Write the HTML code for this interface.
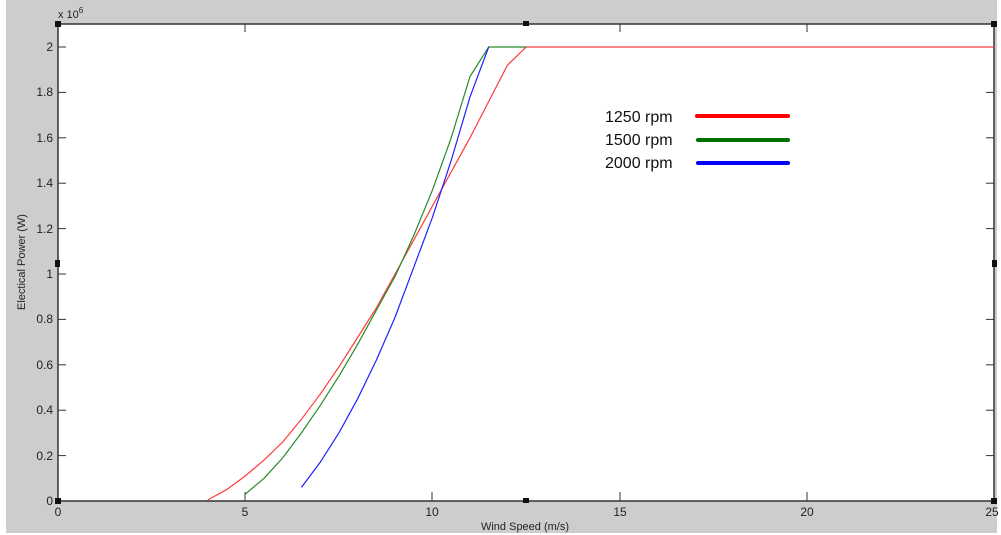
<!DOCTYPE html>
<html><head><meta charset="utf-8"><style>
html,body{margin:0;padding:0;background:#fff;}
svg{display:block;}
text{font-family:"Liberation Sans",Arial,sans-serif;}
</style></head><body>
<svg width="1001" height="535" viewBox="0 0 1001 535">
<rect x="0" y="0" width="1001" height="535" fill="#fff"/>
<rect x="6" y="0" width="991" height="533" fill="#cdcdcd"/>
<rect x="58" y="24" width="936" height="477" fill="#fff"/>
<g stroke="#333" stroke-width="1.5" fill="none">
<rect x="58" y="24" width="936" height="477"/>
</g>
<g stroke="#333" stroke-width="1">
<!-- y ticks -->
<line x1="58" x2="66" y1="501" y2="501"/><line x1="58" x2="66" y1="455.6" y2="455.6"/><line x1="58" x2="66" y1="410.2" y2="410.2"/><line x1="58" x2="66" y1="364.8" y2="364.8"/><line x1="58" x2="66" y1="319.4" y2="319.4"/><line x1="58" x2="66" y1="274" y2="274"/><line x1="58" x2="66" y1="228.6" y2="228.6"/><line x1="58" x2="66" y1="183.2" y2="183.2"/><line x1="58" x2="66" y1="137.8" y2="137.8"/><line x1="58" x2="66" y1="92.4" y2="92.4"/><line x1="58" x2="66" y1="47" y2="47"/>
<line x1="994" x2="986" y1="455.6" y2="455.6"/><line x1="994" x2="986" y1="410.2" y2="410.2"/><line x1="994" x2="986" y1="364.8" y2="364.8"/><line x1="994" x2="986" y1="319.4" y2="319.4"/><line x1="994" x2="986" y1="228.6" y2="228.6"/><line x1="994" x2="986" y1="183.2" y2="183.2"/><line x1="994" x2="986" y1="137.8" y2="137.8"/><line x1="994" x2="986" y1="92.4" y2="92.4"/><line x1="994" x2="986" y1="47" y2="47"/>
<line x1="245" x2="245" y1="501" y2="492"/><line x1="432" x2="432" y1="501" y2="492"/><line x1="620" x2="620" y1="501" y2="492"/><line x1="807" x2="807" y1="501" y2="492"/>
<line x1="245" x2="245" y1="24" y2="32"/><line x1="620" x2="620" y1="24" y2="32"/><line x1="807" x2="807" y1="24" y2="32"/>
</g>
<g fill="#111">
<rect x="55" y="21" width="6" height="6"/><rect x="991" y="21" width="6" height="6"/>
<rect x="55" y="498" width="6" height="6"/><rect x="991" y="498" width="6" height="6"/>
<rect x="523" y="21" width="6" height="5"/><rect x="523" y="498" width="6" height="5"/>
<rect x="55" y="260" width="5" height="7"/><rect x="992" y="260" width="5" height="7"/>
</g>
<g font-size="12" fill="#222" text-anchor="end">
<text x="53" y="505">0</text><text x="53" y="460">0.2</text><text x="53" y="414">0.4</text><text x="53" y="369">0.6</text><text x="53" y="323">0.8</text><text x="53" y="278">1</text><text x="53" y="233">1.2</text><text x="53" y="187">1.4</text><text x="53" y="142">1.6</text><text x="53" y="96">1.8</text><text x="53" y="51">2</text>
</g>
<g font-size="12" fill="#222" text-anchor="middle">
<text x="58" y="516">0</text><text x="245" y="516">5</text><text x="432" y="516">10</text><text x="620" y="516">15</text><text x="807" y="516">20</text><text x="992" y="516">25</text>
<text x="525" y="530" font-size="11">Wind Speed (m/s)</text>
</g>
<text x="58" y="18" font-size="11" fill="#222">x 10<tspan font-size="8" dy="-5">6</tspan></text>
<text transform="translate(25,262) rotate(-90)" font-size="11" fill="#222" text-anchor="middle">Electical Power (W)</text>
<g fill="none" stroke-width="1.2">
<polyline stroke="#ff3b3b" points="207.8,499.9 226.5,489.7 245.2,476 264,460.1 282.7,442 301.4,419.3 320.1,394.3 338.9,366.9 357.6,337.5 376.3,308 395.1,274 413.8,239.9 432.5,205.9 451.2,171.8 470,137.8 488.7,101.5 507.4,65.2 526.2,47 994,47"/>
<polyline stroke="#2a8a2a" points="245.2,494.2 264,478.3 282.7,457.9 301.4,432.9 320.1,405.7 338.9,376.2 357.6,344.4 376.3,310.3 395.1,276.3 413.8,235.4 432.5,190 451.2,137.8 470,76.5 488.7,47 526.2,47"/>
<polyline stroke="#2020ff" points="301.4,487.4 320.1,462.4 338.9,432.9 357.6,398.8 376.3,360.3 395.1,317.1 413.8,267.2 432.5,217.2 451.2,160.5 470,96.9 488.7,47"/>
</g>
<g font-family="Liberation Sans" font-size="16" fill="#111">
<text x="605" y="122">1250 rpm</text><text x="605" y="145">1500 rpm</text><text x="605" y="168">2000 rpm</text>
</g>
<g stroke-width="4" stroke-linecap="round">
<line x1="697" x2="788" y1="116" y2="116" stroke="#ff0000"/>
<line x1="698" x2="788" y1="140" y2="140" stroke="#007000"/>
<line x1="698" x2="788" y1="163" y2="163" stroke="#0000ff"/>
</g>
</svg>
</body></html>
